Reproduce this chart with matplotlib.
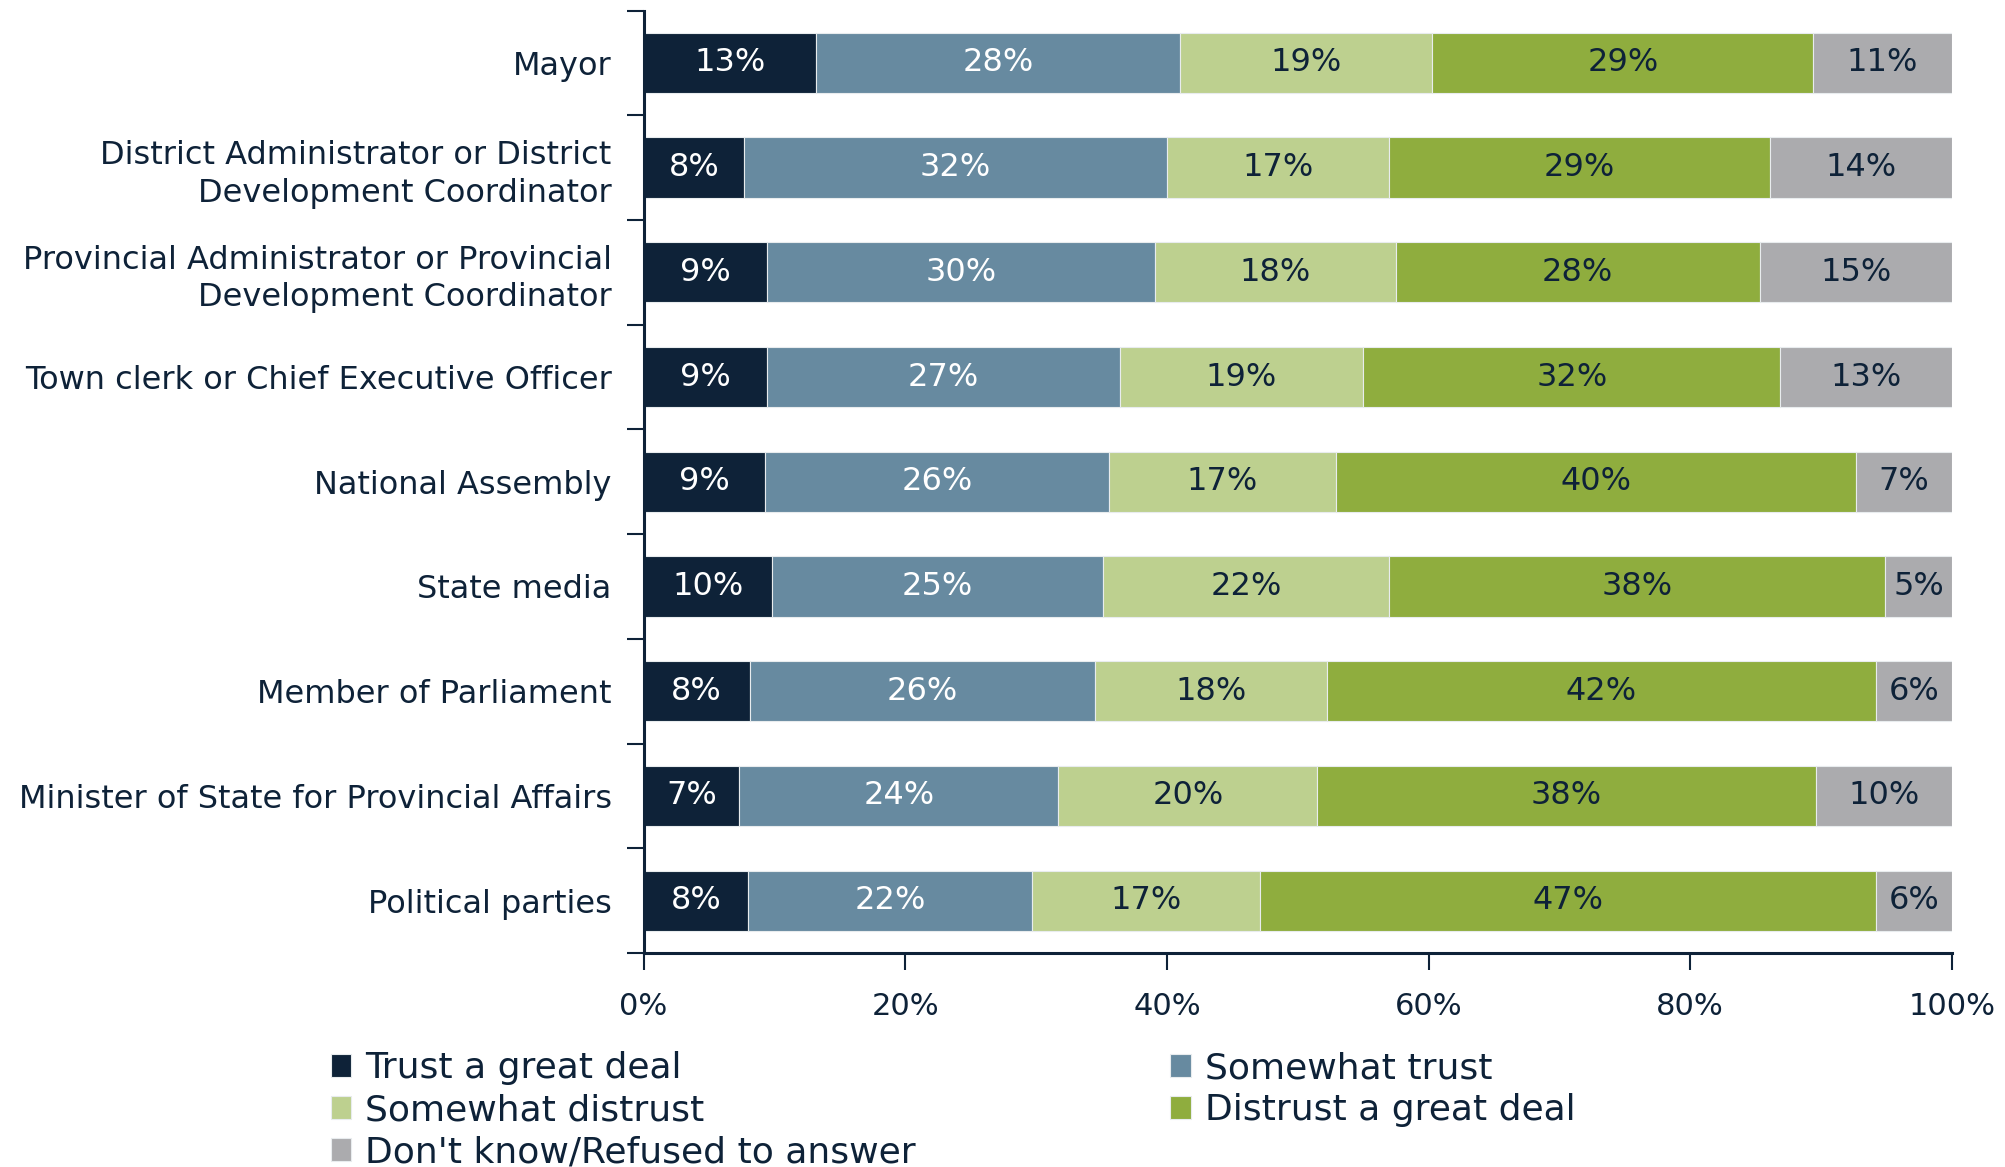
import numpy as np
import matplotlib
matplotlib.use("Agg")
import matplotlib.pyplot as plt
from matplotlib.ticker import FixedLocator, PercentFormatter

# --- データ ---
categories = [
    "Mayor",
    "District Administrator or District\nDevelopment Coordinator",
    "Provincial Administrator or Provincial\nDevelopment Coordinator",
    "Town clerk or Chief Executive Officer",
    "National Assembly",
    "State media",
    "Member of Parliament",
    "Minister of State for Provincial Affairs",
    "Political parties",
]
series_names = [
    "Trust a great deal",
    "Somewhat trust",
    "Somewhat distrust",
    "Distrust a great deal",
    "Don't know/Refused to answer",
]
trust_great = [13.2, 7.7, 9.4, 9.4, 9.3, 9.8, 8.1, 7.3, 8.0]
somewhat_trust = [27.8, 32.3, 29.7, 27.0, 26.3, 25.3, 26.4, 24.4, 21.7]
somewhat_distrust = [19.3, 17.0, 18.4, 18.6, 17.3, 21.9, 17.7, 19.8, 17.4]
distrust_great = [29.1, 29.1, 27.8, 31.9, 39.8, 37.9, 42.0, 38.1, 47.1]
dont_know = [10.6, 13.9, 14.7, 13.1, 7.3, 5.1, 5.8, 10.4, 5.8]
x_ticks = [0, 20, 40, 60, 80, 100]

colors = ["#0E2238", "#678AA0", "#BDD08F", "#8FAD3E", "#ABABAE"]
text_colors = ["white", "white", "#0E2238", "#0E2238", "#0E2238"]
ink = "#0E2238"

plt.rcParams['font.family'] = ['DejaVu Sans']

fig = plt.figure(figsize=(20.05, 11.67), dpi=100)
ax = fig.add_axes([0.321, 0.1834, 0.6525, 0.8076])

series = [trust_great, somewhat_trust, somewhat_distrust, distrust_great, dont_know]
y = np.arange(len(categories))
left = np.zeros(len(categories))
handles = []
for vals, name, col, tcol in zip(series, series_names, colors, text_colors):
    vals = np.array(vals)
    bars = ax.barh(y, vals, left=left, height=0.575, color=col,
                   edgecolor="#E8ECEE", linewidth=0.8, label=name)
    handles.append(bars)
    for yi, v, l in zip(y, vals, left):
        ax.text(l + v / 2, yi, f"{v:.0f}%", ha="center", va="center",
                color=tcol, fontsize=23)
    left += vals

ax.set_xlim(0, 100)
ax.set_ylim(len(categories) - 0.5, -0.5)

# 軸の体裁
for s in ["top", "right"]:
    ax.spines[s].set_visible(False)
for s in ["left", "bottom"]:
    ax.spines[s].set_color(ink)
    ax.spines[s].set_linewidth(2.2)

ax.xaxis.set_major_locator(FixedLocator(x_ticks))
ax.xaxis.set_major_formatter(PercentFormatter(decimals=0))
ax.tick_params(axis="x", length=12, width=1.5, color=ink, labelcolor=ink,
               labelsize=22, pad=16)

ax.yaxis.set_major_locator(FixedLocator(np.arange(len(categories) + 1) - 0.5))
ax.yaxis.set_major_formatter(plt.NullFormatter())
ax.set_yticks(y, categories, minor=True)
ax.tick_params(axis="y", which="major", length=12, width=1.5, color=ink)
ax.tick_params(axis="y", which="minor", length=0, labelsize=23,
               labelcolor=ink, pad=23)
for lab in ax.get_yticklabels(minor=True):
    lab.set_horizontalalignment("right")
    lab.set_multialignment("right")
    lab.set_linespacing(1.27)

order = [0, 2, 4, 1, 3]
leg = fig.legend([handles[i] for i in order], [series_names[i] for i in order],
                 ncol=2, loc="upper left", bbox_to_anchor=(0.165, 0.099),
                 frameon=False, fontsize=26, handlelength=0.57, handleheight=0.62,
                 handletextpad=0.38, labelspacing=0.22, columnspacing=7.05,
                 borderaxespad=0, borderpad=0)
for t in leg.get_texts():
    t.set_color(ink)

fig.savefig("out.png", dpi=100)
